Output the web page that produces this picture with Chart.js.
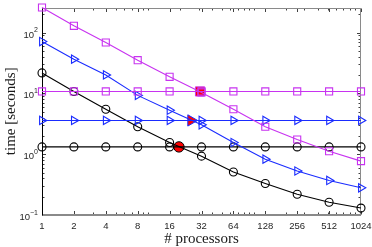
<!DOCTYPE html>
<html>
<head>
<meta charset="utf-8">
<script src="https://cdn.jsdelivr.net/npm/chart.js@4/dist/chart.umd.min.js"></script>
<style>
  html, body { margin: 0; padding: 0; background: #fff; }
  #wrap { width: 372px; height: 247px; }
</style>
</head>
<body>
<div id="wrap"><canvas id="timing"></canvas></div>
<script>
// processor counts (x axis)
var processors = [1, 2, 4, 8, 16, 32, 64, 128, 256, 512, 1024];

// time [seconds]
var magentaScaling = [260, 130, 69, 35.3, 18.8, 10.4, 5.5, 2.83, 1.75, 1.12, 0.77];
var magentaFlat    = [10.8, 10.8, 10.8, 10.8, 10.8, 10.8, 10.8, 10.8, 10.8, 10.8, 10.8];
var blueScaling    = [71.6, 36.7, 20.2, 9.3, 5.3, 3.05, 1.56, 0.83, 0.53, 0.37, 0.28];
var blueFlat       = [3.6, 3.6, 3.6, 3.6, 3.6, 3.6, 3.6, 3.6, 3.6, 3.6, 3.6];
var blackScaling   = [21.8, 10.8, 5.5, 2.83, 1.56, 0.93, 0.51, 0.33, 0.22, 0.162, 0.13];
var blackFlat      = [1.32, 1.32, 1.32, 1.32, 1.32, 1.32, 1.32, 1.32, 1.32, 1.32, 1.32];

// break-even points (red markers)
var crossProcs = [19.6, 25.5, 31];
var crossTimes = [1.32, 3.6, 10.8];

// y tick labels (decades) as exponents
var yTickExps = [-1, 0, 1, 2];
var yMin = 0.1, yMax = 260;

var MAGENTA = '#c833f0';
var BLUE = '#1a2cff';
var BLACK = '#000000';
var RED = '#ff0000';

function pts(xs, ys) {
  return xs.map(function (v, i) { return { x: v, y: ys[i] }; });
}

function lineSet(ys, color, style, radius, rot) {
  return {
    data: pts(processors, ys),
    borderColor: color,
    borderWidth: 1.1,
    pointStyle: style,
    pointRadius: radius,
    pointRotation: rot || 0,
    pointBorderColor: color,
    pointBorderWidth: 1.1,
    pointBackgroundColor: 'rgba(0,0,0,0)',
    tension: 0,
    clip: false
  };
}

var axesPlugin = {
  id: 'matlabAxes',
  beforeDatasetsDraw: function (chart) {
    var ctx = chart.ctx, a = chart.chartArea;
    var xs = chart.scales.x, ys = chart.scales.y;
    var L = Math.round(a.left) + 0.5, R = Math.round(a.right) - 0.5;
    var T = Math.round(a.top) + 0.5, B = Math.round(a.bottom) - 0.5;
    ctx.save();
    ctx.lineWidth = 1;

    // x ticks (inside, bottom and top)
    ctx.strokeStyle = '#404040';
    var n, k, v, p;
    for (n = 0; n < 4; n++) {
      for (k = 1; k < 10; k++) {
        v = k * Math.pow(10, n);
        if (v <= 1 || v >= 1024) continue;
        p = Math.round(xs.getPixelForValue(v)) + 0.5;
        ctx.beginPath();
        ctx.moveTo(p, B); ctx.lineTo(p, B - 2);
        ctx.moveTo(p, T); ctx.lineTo(p, T + 2);
        ctx.stroke();
      }
    }
    processors.forEach(function (pv) {
      p = Math.round(xs.getPixelForValue(pv)) + 0.5;
      ctx.beginPath();
      ctx.moveTo(p, B); ctx.lineTo(p, B - 3.5);
      ctx.moveTo(p, T); ctx.lineTo(p, T + 3.5);
      ctx.stroke();
    });

    // y ticks (inside, left and right)
    for (n = -1; n < 3; n++) {
      for (k = 1; k < 10; k++) {
        v = k * Math.pow(10, n);
        if (v < yMin || v > yMax) continue;
        p = Math.round(ys.getPixelForValue(v)) + 0.5;
        var len = k === 1 ? 3.5 : 2;
        ctx.beginPath();
        ctx.moveTo(L, p); ctx.lineTo(L + len, p);
        ctx.moveTo(R, p); ctx.lineTo(R - len, p);
        ctx.stroke();
      }
    }

    // box
    ctx.strokeStyle = '#8a8a8a';
    ctx.beginPath();
    ctx.moveTo(L, T); ctx.lineTo(R, T); ctx.lineTo(R, B);
    ctx.stroke();
    ctx.lineWidth = 2;
    ctx.beginPath();
    ctx.moveTo(L, B + 0.5); ctx.lineTo(R + 0.5, B + 0.5);
    ctx.stroke();
    ctx.lineWidth = 1;
    ctx.strokeStyle = '#000';
    ctx.beginPath();
    ctx.moveTo(L, T); ctx.lineTo(L, B + 1);
    ctx.stroke();

    // x tick labels
    ctx.fillStyle = '#262626';
    ctx.font = '9.5px "Liberation Sans", Arial, sans-serif';
    ctx.textAlign = 'center';
    ctx.textBaseline = 'alphabetic';
    processors.forEach(function (pv) {
      ctx.fillText(String(pv), xs.getPixelForValue(pv), a.bottom + 14);
    });

    // y tick labels 10^e
    yTickExps.forEach(function (e) {
      var py = ys.getPixelForValue(Math.pow(10, e));
      var sup = String(e).replace('-', '\u2212');
      ctx.font = '7px "Liberation Sans", Arial, sans-serif';
      var sw = ctx.measureText(sup).width;
      var right = a.left - 4;
      ctx.textAlign = 'right';
      ctx.fillText(sup, right, py - 0.5);
      ctx.font = '9.5px "Liberation Sans", Arial, sans-serif';
      ctx.fillText('10', right - sw, py + 5);
    });

    // axis titles
    ctx.fillStyle = '#1a1a1a';
    ctx.font = '15px "Liberation Serif", "DejaVu Serif", serif';
    ctx.textAlign = 'center';
    ctx.fillText('# processors', (a.left + a.right) / 2, 243);
    ctx.save();
    ctx.translate(15, (a.top + a.bottom) / 2);
    ctx.rotate(-Math.PI / 2);
    ctx.fillText('time [seconds]', 0, 0);
    ctx.restore();

    ctx.restore();
  }
};

new Chart(document.getElementById('timing'), {
  type: 'line',
  data: {
    datasets: [
      lineSet(magentaScaling, MAGENTA, 'rect', 5),
      lineSet(magentaFlat, MAGENTA, 'rect', 5),
      lineSet(blueScaling, BLUE, 'triangle', 4.8, 90),
      lineSet(blueFlat, BLUE, 'triangle', 4.8, 90),
      lineSet(blackScaling, BLACK, 'circle', 4),
      lineSet(blackFlat, BLACK, 'circle', 4),
      {
        data: pts(crossProcs, crossTimes),
        showLine: false,
        pointStyle: ['circle', 'triangle', 'rect'],
        pointRotation: [0, 90, 0],
        pointRadius: [5.2, 6.5, 6.5],
        pointBackgroundColor: RED,
        pointBorderColor: [BLACK, BLUE, MAGENTA],
        pointBorderWidth: 1,
        clip: false
      }
    ]
  },
  options: {
    responsive: true,
    maintainAspectRatio: false,
    animation: false,
    events: [],
    layout: { padding: { left: 42, right: 11, top: 3, bottom: 32 } },
    plugins: { legend: { display: false }, tooltip: { enabled: false } },
    scales: {
      x: { type: 'logarithmic', display: false, min: 1, max: 1024 },
      y: { type: 'logarithmic', display: false, min: yMin, max: yMax }
    }
  },
  plugins: [axesPlugin]
});
</script>
</body>
</html>
